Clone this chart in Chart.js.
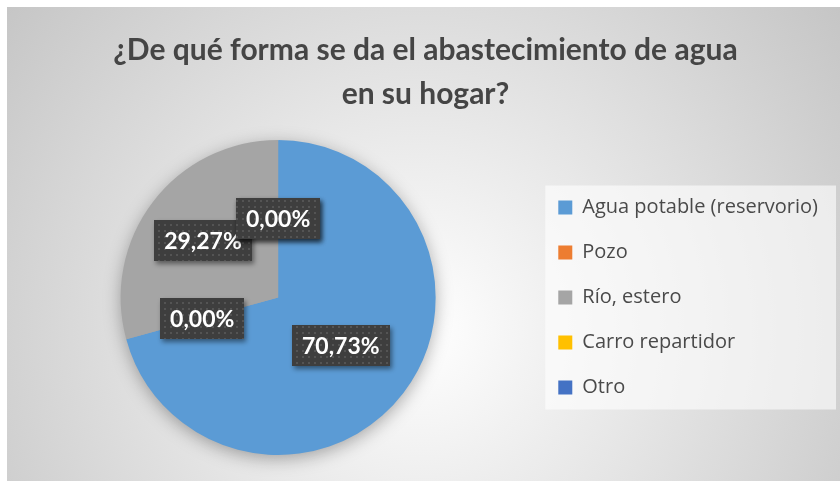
<!DOCTYPE html>
<html>
<head>
<meta charset="utf-8">
<script src="https://cdn.jsdelivr.net/npm/chart.js@4/dist/chart.umd.min.js"></script>
<style>
  html, body { margin: 0; padding: 0; background: #fff; }
  #wrap { width: 840px; height: 481px; }
</style>
</head>
<body>
<div id="wrap"><canvas id="pie" width="840" height="481"></canvas></div>
<script>
const categorias = ['Agua potable (reservorio)', 'Pozo', 'Río, estero', 'Carro repartidor', 'Otro'];
const respuestas = [29, 0, 12, 0, 0];
const colores = ['#5b9bd5', '#ed7d31', '#a5a5a5', '#ffc000', '#4472c4'];
const titulo = ['¿De qué forma se da el abastecimiento de agua', 'en su hogar?'];

// distance of each data label from the center, as a fraction of the radius
const distEtiqueta = [0.5, 0.5, 0.6, 0.5, 0.5];

// dotted dark fill for the data label boxes
const trama = document.createElement('canvas');
trama.width = 6; trama.height = 6;
const tc = trama.getContext('2d');
tc.fillStyle = '#3e3e3e'; tc.fillRect(0, 0, 6, 6);
tc.fillStyle = '#545454'; tc.fillRect(2, 2, 2, 2);

const fondo = {
  id: 'fondo',
  beforeDraw(chart) {
    const ctx = chart.ctx;
    ctx.save();
    ctx.fillStyle = '#ffffff';
    ctx.fillRect(0, 0, chart.width, chart.height);
    const g = ctx.createRadialGradient(420, 330, 0, 420, 330, 560);
    g.addColorStop(0, '#ffffff');
    g.addColorStop(1, '#c2c2c2');
    ctx.fillStyle = g;
    ctx.fillRect(7, 7, chart.width - 7, chart.height - 7);

    // light box behind the legend
    const hb = chart.legend.legendHitBoxes;
    if (hb && hb.length) {
      const last = hb[hb.length - 1];
      const top = hb[0].top - 12;
      const bottom = last.top + last.height + 12;
      const left = hb[0].left - 13;
      ctx.fillStyle = 'rgba(255,255,255,0.6)';
      ctx.fillRect(left, top, 836 - left, bottom - top);
    }
    ctx.restore();
  },
  beforeDatasetsDraw(chart) {
    // soft shadow under the pie
    const arc = chart.getDatasetMeta(0).data[0];
    const ctx = chart.ctx;
    ctx.save();
    ctx.shadowColor = 'rgba(0,0,0,0.35)';
    ctx.shadowBlur = 18;
    ctx.shadowOffsetY = 4;
    ctx.fillStyle = '#a5a5a5';
    ctx.beginPath();
    ctx.arc(arc.x, arc.y, arc.outerRadius - 1, 0, Math.PI * 2);
    ctx.fill();
    ctx.restore();
  }
};

const etiquetas = {
  id: 'etiquetas',
  afterDatasetsDraw(chart) {
    const ctx = chart.ctx;
    const meta = chart.getDatasetMeta(0);
    const data = chart.data.datasets[0].data;
    const total = data.reduce((a, b) => a + b, 0);
    ctx.save();
    ctx.font = 'bold 23px Lato';
    ctx.textAlign = 'center';
    ctx.textBaseline = 'middle';
    meta.data.forEach((arc, i) => {
      const p = arc.getProps(['x', 'y', 'startAngle', 'endAngle', 'outerRadius'], true);
      const mid = (p.startAngle + p.endAngle) / 2;
      const r = p.outerRadius * distEtiqueta[i];
      const cx = p.x + Math.cos(mid) * r;
      const cy = p.y + Math.sin(mid) * r;
      const txt = (data[i] / total * 100).toFixed(2).replace('.', ',') + '%';
      const w = ctx.measureText(txt).width + 20;
      const h = 41;
      ctx.save();
      ctx.shadowColor = 'rgba(0,0,0,0.45)';
      ctx.shadowBlur = 5;
      ctx.shadowOffsetX = 2;
      ctx.shadowOffsetY = 3;
      ctx.fillStyle = ctx.createPattern(trama, 'repeat');
      ctx.fillRect(Math.round(cx - w / 2), Math.round(cy - h / 2), Math.round(w), h);
      ctx.restore();
      ctx.fillStyle = '#ffffff';
      ctx.fillText(txt, cx, cy + 1);
    });
    ctx.restore();
  }
};

new Chart(document.getElementById('pie'), {
  type: 'pie',
  data: {
    labels: categorias,
    datasets: [{ data: respuestas, backgroundColor: colores, borderWidth: 0 }]
  },
  options: {
    responsive: false,
    animation: false,
    layout: { padding: { top: 22, bottom: 26, left: 23, right: 12 } },
    plugins: {
      title: {
        display: true,
        text: titulo,
        color: '#454545',
        font: { family: 'Lato', size: 30, weight: 'bold', lineHeight: 1.45 },
        padding: { top: 7, bottom: 24 }
      },
      legend: {
        position: 'right',
        fullSize: false,
        labels: {
          boxWidth: 14,
          boxHeight: 14,
          padding: 25,
          color: '#4a4a4a',
          font: { family: 'Open Sans', size: 20 }
        }
      },
      tooltip: { enabled: false }
    }
  },
  plugins: [fondo, etiquetas]
});
</script>
</body>
</html>
